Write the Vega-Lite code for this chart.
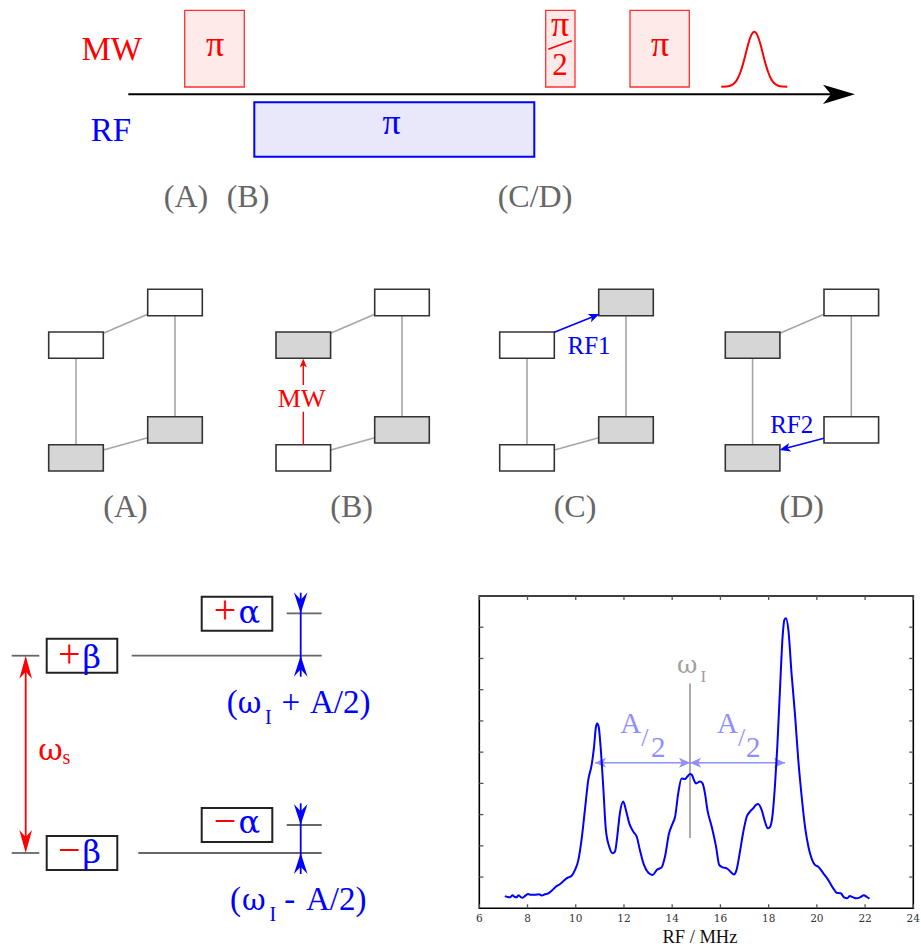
{
"$schema": "https://vega.github.io/schema/vega-lite/v6.json",
"width": 921, "height": 949, "autosize": {"type": "none"}, "padding": 0,
"background": "white",
"config": {"view": {"stroke": null}},
"datasets": {
 "time_axis": [{"x":128.3,"x2":846,"y":94.3,"y2":94.3}],
 "time_tip": [{"x":855,"y":94.3}],
 "mw_pulses": [{"x":184.7,"x2":244.3,"y":10.3,"y2":87},{"x":545.7,"x2":575,"y":10.3,"y2":87},{"x":630,"x2":689.3,"y":10.3,"y2":87}],
 "rf_pulse": [{"x":254.3,"x2":534.3,"y":102.3,"y2":156.7}],
 "readout": [{"x":721.3,"y":86.7},{"x":726.3,"y":86.5},{"x":730.3,"y":85.7},{"x":734.3,"y":83.2},{"x":736.3,"y":80.9},{"x":738.3,"y":77.3},{"x":740.3,"y":72.5},{"x":742.3,"y":66.4},{"x":744.3,"y":59.2},{"x":746.3,"y":51.4},{"x":748.3,"y":43.8},{"x":750.3,"y":37.5},{"x":752.3,"y":33.2},{"x":754.3,"y":31.7},{"x":756.3,"y":33.2},{"x":758.3,"y":37.5},{"x":760.3,"y":43.8},{"x":762.3,"y":51.4},{"x":764.3,"y":59.2},{"x":766.3,"y":66.4},{"x":768.3,"y":72.5},{"x":770.3,"y":77.3},{"x":772.3,"y":80.9},{"x":774.3,"y":83.2},{"x":778.3,"y":85.7},{"x":782.3,"y":86.5},{"x":787.3,"y":86.7}],
 "fraction_bar": [{"x":548.3,"y":49.3,"x2":571.7,"y2":40.7}],
 "txt_mw": [{"x":111.7,"y":60,"label":"MW"}],
 "txt_rf": [{"x":111,"y":140.7,"label":"RF"}],
 "txt_pi_red": [{"x":215,"y":55.5,"label":"π"},{"x":560,"y":35.5,"label":"π"},{"x":660,"y":55.5,"label":"π"}],
 "txt_two_red": [{"x":560,"y":75,"label":"2"}],
 "txt_pi_blue": [{"x":391.7,"y":133.8,"label":"π"}],
 "txt_steps": [{"x":186,"y":207,"label":"(A)"},{"x":248,"y":207,"label":"(B)"},{"x":535,"y":207,"label":"(C/D)"},{"x":125.5,"y":516.7,"label":"(A)"},{"x":351.7,"y":516.7,"label":"(B)"},{"x":575,"y":516.7,"label":"(C)"},{"x":801.7,"y":516.7,"label":"(D)"}],
 "couplings": [
  {"x":103.3,"y":333.3,"x2":147.7,"y2":314.3},{"x":76,"y":358.3,"x2":76,"y2":444.7},{"x":175,"y":315.7,"x2":175,"y2":416.7},{"x":103.3,"y":450,"x2":147.7,"y2":437.7},
  {"x":330.6,"y":333.3,"x2":374.7,"y2":314.3},{"x":402,"y":315.7,"x2":402,"y2":416.7},{"x":330.6,"y":450,"x2":374.7,"y2":437.7},
  {"x":527,"y":358.3,"x2":527,"y2":444.7},{"x":626,"y":315.7,"x2":626,"y2":416.7},{"x":554.3,"y":450,"x2":598.7,"y2":437.7},
  {"x":779.9,"y":333.3,"x2":824,"y2":314.3},{"x":752.6,"y":358.3,"x2":752.6,"y2":444.7},{"x":851.3,"y":315.7,"x2":851.3,"y2":416.7}],
 "levels": [
  {"x":48.7,"x2":103.3,"y":332,"y2":358.3,"pop":"empty"},{"x":147.7,"x2":202.3,"y":289.3,"y2":315.7,"pop":"empty"},{"x":48.7,"x2":103.3,"y":444.7,"y2":471,"pop":"filled"},{"x":147.7,"x2":202.3,"y":416.7,"y2":443,"pop":"filled"},
  {"x":276,"x2":330.6,"y":332,"y2":358.3,"pop":"filled"},{"x":374.7,"x2":429.3,"y":289.3,"y2":315.7,"pop":"empty"},{"x":276,"x2":330.6,"y":444.7,"y2":471,"pop":"empty"},{"x":374.7,"x2":429.3,"y":416.7,"y2":443,"pop":"filled"},
  {"x":499.7,"x2":554.3,"y":332,"y2":358.3,"pop":"empty"},{"x":598.7,"x2":653.3,"y":289.3,"y2":315.7,"pop":"filled"},{"x":499.7,"x2":554.3,"y":444.7,"y2":471,"pop":"empty"},{"x":598.7,"x2":653.3,"y":416.7,"y2":443,"pop":"filled"},
  {"x":725.3,"x2":779.9,"y":332,"y2":358.3,"pop":"filled"},{"x":824,"x2":878.6,"y":289.3,"y2":315.7,"pop":"empty"},{"x":725.3,"x2":779.9,"y":444.7,"y2":471,"pop":"filled"},{"x":824,"x2":878.6,"y":416.7,"y2":443,"pop":"empty"}],
 "mw_arrow": [{"x":303.3,"y":444.7,"x2":303.3,"y2":411.7},{"x":303.3,"y":385,"x2":303.3,"y2":362}],
 "mw_tip": [{"x":303.3,"y":358.5}],
 "txt_mw_small": [{"x":301.7,"y":406.7,"label":"MW"}],
 "rf1_arrow": [{"x":554.3,"y":332.3,"x2":596,"y2":315.4}],
 "rf1_tip": [{"x":599.5,"y":314}],
 "rf2_arrow": [{"x":824,"y":438.3,"x2":783,"y2":449.1}],
 "rf2_tip": [{"x":779.5,"y":450.1}],
 "txt_rf_small": [{"x":589,"y":354,"label":"RF1"},{"x":791.7,"y":433.3,"label":"RF2"}],
 "bl_levels": [{"x":11.7,"x2":39.3,"y":655.7,"y2":655.7},{"x":131.7,"x2":321.7,"y":655.7,"y2":655.7},{"x":286.7,"x2":321.7,"y":613.3,"y2":613.3},{"x":286.7,"x2":321.7,"y":825,"y2":825},{"x":11.7,"x2":39.3,"y":853,"y2":853},{"x":138.3,"x2":321.7,"y":853,"y2":853}],
 "bl_boxes": [{"x":201.7,"x2":272.3,"y":596.7,"y2":630.7},{"x":46.7,"x2":117.3,"y":638.7,"y2":672.7},{"x":201.7,"x2":272.3,"y":808,"y2":842},{"x":46.7,"x2":117.3,"y":836,"y2":870}],
 "hf_rules": [{"x":300.7,"x2":300.7,"y":592.7,"y2":676.7},{"x":300.7,"x2":300.7,"y":803.3,"y2":874}],
 "hf_down": [{"x":300.7,"y":613.3},{"x":300.7,"y":825}],
 "hf_up": [{"x":300.7,"y":655.7},{"x":300.7,"y":853}],
 "ws_rule": [{"x":25.7,"x2":25.7,"y":662,"y2":847}],
 "ws_up": [{"x":25.7,"y":655.7}],
 "ws_down": [{"x":25.7,"y":853}],
 "txt_sign": [{"x":69.3,"y":666.7,"label":"+"},{"x":225,"y":623.3,"label":"+"},{"x":225,"y":834,"label":"−"},{"x":69.3,"y":862.5,"label":"−"}],
 "txt_alpha": [{"x":249.3,"y":622.7,"label":"α"},{"x":249.3,"y":833.3,"label":"α"}],
 "txt_beta": [{"x":91.7,"y":667.5,"label":"β"},{"x":91.7,"y":862.5,"label":"β"}],
 "txt_ws": [{"x":50.5,"y":760,"label":"ω"}],
 "txt_ws_sub": [{"x":66.3,"y":764,"label":"s"}],
 "txt_paren": [{"x":226.7,"y":713.3,"label":"("},{"x":230,"y":910,"label":"("}],
 "txt_omega": [{"x":249.5,"y":713.3,"label":"ω"},{"x":253.8,"y":910,"label":"ω"}],
 "txt_op": [{"x":290.8,"y":713.3,"label":"+"},{"x":289.7,"y":910,"label":"-"}],
 "txt_tail": [{"x":310,"y":713.3,"label":"A/2)"},{"x":306,"y":910,"label":"A/2)"}],
 "txt_formula_sub": [{"x":265,"y":724,"label":"I"},{"x":269.5,"y":920.5,"label":"I"}],
 "spectrum": [{"f":7.06,"v":0.39},{"f":7.17,"v":0.36},{"f":7.27,"v":0.35},{"f":7.38,"v":0.42},{"f":7.47,"v":0.36},{"f":7.55,"v":0.35},{"f":7.62,"v":0.42},{"f":7.72,"v":0.36},{"f":7.8,"v":0.34},{"f":7.9,"v":0.4},{"f":8.03,"v":0.46},{"f":8.12,"v":0.43},{"f":8.24,"v":0.43},{"f":8.38,"v":0.44},{"f":8.48,"v":0.45},{"f":8.59,"v":0.41},{"f":8.72,"v":0.45},{"f":8.86,"v":0.48},{"f":9.0,"v":0.56},{"f":9.14,"v":0.67},{"f":9.35,"v":0.78},{"f":9.5,"v":0.88},{"f":9.62,"v":0.96},{"f":9.83,"v":1.04},{"f":9.97,"v":1.23},{"f":10.11,"v":1.55},{"f":10.24,"v":2.19},{"f":10.38,"v":3.15},{"f":10.52,"v":4.11},{"f":10.66,"v":4.59},{"f":10.76,"v":5.18},{"f":10.84,"v":5.82},{"f":10.89,"v":5.92},{"f":10.95,"v":5.82},{"f":11.03,"v":5.18},{"f":11.14,"v":3.9},{"f":11.25,"v":2.51},{"f":11.39,"v":1.97},{"f":11.53,"v":1.76},{"f":11.63,"v":1.82},{"f":11.72,"v":2.29},{"f":11.83,"v":3.04},{"f":11.97,"v":3.42},{"f":12.08,"v":3.15},{"f":12.22,"v":2.72},{"f":12.39,"v":2.45},{"f":12.53,"v":2.29},{"f":12.66,"v":1.87},{"f":12.83,"v":1.39},{"f":13.01,"v":1.14},{"f":13.19,"v":1.07},{"f":13.36,"v":1.23},{"f":13.56,"v":1.31},{"f":13.7,"v":1.65},{"f":13.87,"v":2.4},{"f":14.02,"v":2.72},{"f":14.12,"v":2.93},{"f":14.25,"v":3.68},{"f":14.39,"v":4.16},{"f":14.53,"v":4.14},{"f":14.63,"v":4.22},{"f":14.74,"v":4.3},{"f":14.82,"v":4.27},{"f":14.9,"v":4.11},{"f":14.99,"v":4.0},{"f":15.15,"v":4.06},{"f":15.26,"v":4.0},{"f":15.36,"v":3.68},{"f":15.46,"v":3.15},{"f":15.64,"v":2.61},{"f":15.82,"v":1.97},{"f":15.95,"v":1.39},{"f":16.09,"v":1.31},{"f":16.26,"v":1.28},{"f":16.42,"v":1.17},{"f":16.56,"v":1.08},{"f":16.67,"v":1.23},{"f":16.81,"v":1.81},{"f":16.95,"v":2.45},{"f":17.09,"v":2.93},{"f":17.22,"v":3.09},{"f":17.36,"v":3.2},{"f":17.47,"v":3.31},{"f":17.57,"v":3.34},{"f":17.71,"v":3.15},{"f":17.85,"v":2.77},{"f":17.96,"v":2.56},{"f":18.06,"v":2.61},{"f":18.17,"v":3.04},{"f":18.26,"v":3.9},{"f":18.36,"v":5.18},{"f":18.47,"v":6.99},{"f":18.58,"v":8.7},{"f":18.65,"v":9.23},{"f":18.72,"v":9.29},{"f":18.82,"v":8.91},{"f":18.95,"v":7.52},{"f":19.09,"v":6.24},{"f":19.23,"v":4.75},{"f":19.37,"v":3.58},{"f":19.51,"v":2.61},{"f":19.65,"v":1.97},{"f":19.78,"v":1.6},{"f":19.92,"v":1.39},{"f":20.06,"v":1.33},{"f":20.27,"v":1.12},{"f":20.47,"v":0.91},{"f":20.68,"v":0.64},{"f":20.82,"v":0.5},{"f":20.99,"v":0.48},{"f":21.13,"v":0.35},{"f":21.26,"v":0.32},{"f":21.37,"v":0.39},{"f":21.51,"v":0.35},{"f":21.65,"v":0.32},{"f":21.79,"v":0.35},{"f":21.95,"v":0.42},{"f":22.06,"v":0.37},{"f":22.18,"v":0.31}],
 "frame": [{"f":6,"f2":24,"v":0,"v2":10}],
 "xticks": [{"f":6},{"f":8},{"f":10},{"f":12},{"f":14},{"f":16},{"f":18},{"f":20},{"f":22},{"f":24}],
 "yticks": [{"v":1},{"v":2},{"v":3},{"v":4},{"v":5},{"v":6},{"v":7},{"v":8},{"v":9}],
 "xtitle": [{"f":15.15,"label":"RF / MHz"}],
 "center_line": [{"f":14.74,"v":2.25,"v2":7.2}],
 "half_lines": [{"f":10.8,"f2":14.74,"v":4.66},{"f":14.74,"f2":18.68,"v":4.66}],
 "half_left_tips": [{"f":10.8,"v":4.66},{"f":14.74,"v":4.66}],
 "half_right_tips": [{"f":14.74,"v":4.66},{"f":18.68,"v":4.66}],
 "txt_wI": [{"f":14.62,"v":7.52,"label":"ω"}],
 "txt_wI_sub": [{"f":15.29,"v":7.26,"label":"I"}],
 "txt_halfA": [{"f":12.28,"v":5.6,"label":"A"},{"f":16.29,"v":5.6,"label":"A"}],
 "txt_halfslash": [{"f":12.87,"v":5.2,"label":"/"},{"f":16.88,"v":5.2,"label":"/"}],
 "txt_half2": [{"f":13.42,"v":4.83,"label":"2"},{"f":17.36,"v":4.83,"label":"2"}]
},
"layer": [
 {"layer": [
  {"data":{"name":"time_axis"},"mark":{"type":"rule","stroke":"#000000","strokeWidth":2},
   "encoding":{"x":{"field":"x","type":"quantitative","scale":{"domain":[0,921],"nice":false,"zero":false},"axis":null},"y":{"field":"y","type":"quantitative","scale":{"domain":[0,949],"nice":false,"zero":false,"reverse":true},"axis":null},"x2":{"field":"x2"},"y2":{"field":"y2"}}},
  {"data":{"name":"time_tip"},"mark":{"type":"point","shape":"M0,0L-2,-0.6L-1.5,0L-2,0.6Z","size":1024,"filled":true,"fill":"#000000","strokeWidth":0,"opacity":1},
   "encoding":{"x":{"field":"x","type":"quantitative","scale":{"domain":[0,921],"nice":false,"zero":false},"axis":null},"y":{"field":"y","type":"quantitative","scale":{"domain":[0,949],"nice":false,"zero":false,"reverse":true},"axis":null}}},
  {"data":{"name":"mw_pulses"},"mark":{"type":"rect","fill":"#ffeaea","stroke":"#ff3030","strokeWidth":1.3},
   "encoding":{"x":{"field":"x","type":"quantitative","scale":{"domain":[0,921],"nice":false,"zero":false},"axis":null},"y":{"field":"y","type":"quantitative","scale":{"domain":[0,949],"nice":false,"zero":false,"reverse":true},"axis":null},"x2":{"field":"x2"},"y2":{"field":"y2"}}},
  {"data":{"name":"rf_pulse"},"mark":{"type":"rect","fill":"#e8e8fa","stroke":"#0000ff","strokeWidth":2},
   "encoding":{"x":{"field":"x","type":"quantitative","scale":{"domain":[0,921],"nice":false,"zero":false},"axis":null},"y":{"field":"y","type":"quantitative","scale":{"domain":[0,949],"nice":false,"zero":false,"reverse":true},"axis":null},"x2":{"field":"x2"},"y2":{"field":"y2"}}},
  {"data":{"name":"readout"},"mark":{"type":"line","stroke":"#ff0000","strokeWidth":2,"interpolate":"monotone"},
   "encoding":{"x":{"field":"x","type":"quantitative","scale":{"domain":[0,921],"nice":false,"zero":false},"axis":null},"y":{"field":"y","type":"quantitative","scale":{"domain":[0,949],"nice":false,"zero":false,"reverse":true},"axis":null}}},
  {"data":{"name":"fraction_bar"},"mark":{"type":"rule","stroke":"#ff0000","strokeWidth":1.6},
   "encoding":{"x":{"field":"x","type":"quantitative","scale":{"domain":[0,921],"nice":false,"zero":false},"axis":null},"y":{"field":"y","type":"quantitative","scale":{"domain":[0,949],"nice":false,"zero":false,"reverse":true},"axis":null},"x2":{"field":"x2"},"y2":{"field":"y2"}}},
  {"data":{"name":"txt_mw"},"mark":{"type":"text","font":"Liberation Serif","fontSize":33,"fill":"#ff0000","align":"center","baseline":"alphabetic"},
   "encoding":{"x":{"field":"x","type":"quantitative","scale":{"domain":[0,921],"nice":false,"zero":false},"axis":null},"y":{"field":"y","type":"quantitative","scale":{"domain":[0,949],"nice":false,"zero":false,"reverse":true},"axis":null},"text":{"field":"label","type":"nominal"}}},
  {"data":{"name":"txt_rf"},"mark":{"type":"text","font":"Liberation Serif","fontSize":33,"fill":"#0000ff","align":"center","baseline":"alphabetic"},
   "encoding":{"x":{"field":"x","type":"quantitative","scale":{"domain":[0,921],"nice":false,"zero":false},"axis":null},"y":{"field":"y","type":"quantitative","scale":{"domain":[0,949],"nice":false,"zero":false,"reverse":true},"axis":null},"text":{"field":"label","type":"nominal"}}},
  {"data":{"name":"txt_pi_red"},"mark":{"type":"text","font":"Liberation Serif","fontSize":36,"fill":"#ff0000","align":"center","baseline":"alphabetic"},
   "encoding":{"x":{"field":"x","type":"quantitative","scale":{"domain":[0,921],"nice":false,"zero":false},"axis":null},"y":{"field":"y","type":"quantitative","scale":{"domain":[0,949],"nice":false,"zero":false,"reverse":true},"axis":null},"text":{"field":"label","type":"nominal"}}},
  {"data":{"name":"txt_two_red"},"mark":{"type":"text","font":"Liberation Serif","fontSize":31,"fill":"#ff0000","align":"center","baseline":"alphabetic"},
   "encoding":{"x":{"field":"x","type":"quantitative","scale":{"domain":[0,921],"nice":false,"zero":false},"axis":null},"y":{"field":"y","type":"quantitative","scale":{"domain":[0,949],"nice":false,"zero":false,"reverse":true},"axis":null},"text":{"field":"label","type":"nominal"}}},
  {"data":{"name":"txt_pi_blue"},"mark":{"type":"text","font":"Liberation Serif","fontSize":36,"fill":"#0000ff","align":"center","baseline":"alphabetic"},
   "encoding":{"x":{"field":"x","type":"quantitative","scale":{"domain":[0,921],"nice":false,"zero":false},"axis":null},"y":{"field":"y","type":"quantitative","scale":{"domain":[0,949],"nice":false,"zero":false,"reverse":true},"axis":null},"text":{"field":"label","type":"nominal"}}},
  {"data":{"name":"txt_steps"},"mark":{"type":"text","font":"Liberation Serif","fontSize":32,"fill":"#666666","align":"center","baseline":"alphabetic"},
   "encoding":{"x":{"field":"x","type":"quantitative","scale":{"domain":[0,921],"nice":false,"zero":false},"axis":null},"y":{"field":"y","type":"quantitative","scale":{"domain":[0,949],"nice":false,"zero":false,"reverse":true},"axis":null},"text":{"field":"label","type":"nominal"}}},
  {"data":{"name":"couplings"},"mark":{"type":"rule","stroke":"#a6a6a6","strokeWidth":1.6},
   "encoding":{"x":{"field":"x","type":"quantitative","scale":{"domain":[0,921],"nice":false,"zero":false},"axis":null},"y":{"field":"y","type":"quantitative","scale":{"domain":[0,949],"nice":false,"zero":false,"reverse":true},"axis":null},"x2":{"field":"x2"},"y2":{"field":"y2"}}},
  {"data":{"name":"levels"},"mark":{"type":"rect","stroke":"#333333","strokeWidth":1.6},
   "encoding":{"x":{"field":"x","type":"quantitative","scale":{"domain":[0,921],"nice":false,"zero":false},"axis":null},"y":{"field":"y","type":"quantitative","scale":{"domain":[0,949],"nice":false,"zero":false,"reverse":true},"axis":null},"x2":{"field":"x2"},"y2":{"field":"y2"},
    "fill":{"field":"pop","type":"nominal","scale":{"domain":["empty","filled"],"range":["#ffffff","#d6d6d6"]},"legend":null}}},
  {"data":{"name":"mw_arrow"},"mark":{"type":"rule","stroke":"#ff0000","strokeWidth":1.4},
   "encoding":{"x":{"field":"x","type":"quantitative","scale":{"domain":[0,921],"nice":false,"zero":false},"axis":null},"y":{"field":"y","type":"quantitative","scale":{"domain":[0,949],"nice":false,"zero":false,"reverse":true},"axis":null},"x2":{"field":"x2"},"y2":{"field":"y2"}}},
  {"data":{"name":"mw_tip"},"mark":{"type":"point","shape":"M0,0L-2,-0.8L-1.5,0L-2,0.8Z","size":81,"angle":270,"filled":true,"fill":"#ff0000","strokeWidth":0,"opacity":1},
   "encoding":{"x":{"field":"x","type":"quantitative","scale":{"domain":[0,921],"nice":false,"zero":false},"axis":null},"y":{"field":"y","type":"quantitative","scale":{"domain":[0,949],"nice":false,"zero":false,"reverse":true},"axis":null}}},
  {"data":{"name":"txt_mw_small"},"mark":{"type":"text","font":"Liberation Serif","fontSize":26,"fill":"#ff0000","align":"center","baseline":"alphabetic"},
   "encoding":{"x":{"field":"x","type":"quantitative","scale":{"domain":[0,921],"nice":false,"zero":false},"axis":null},"y":{"field":"y","type":"quantitative","scale":{"domain":[0,949],"nice":false,"zero":false,"reverse":true},"axis":null},"text":{"field":"label","type":"nominal"}}},
  {"data":{"name":"rf1_arrow"},"mark":{"type":"rule","stroke":"#0000ff","strokeWidth":1.6},
   "encoding":{"x":{"field":"x","type":"quantitative","scale":{"domain":[0,921],"nice":false,"zero":false},"axis":null},"y":{"field":"y","type":"quantitative","scale":{"domain":[0,949],"nice":false,"zero":false,"reverse":true},"axis":null},"x2":{"field":"x2"},"y2":{"field":"y2"}}},
  {"data":{"name":"rf2_arrow"},"mark":{"type":"rule","stroke":"#0000ff","strokeWidth":1.6},
   "encoding":{"x":{"field":"x","type":"quantitative","scale":{"domain":[0,921],"nice":false,"zero":false},"axis":null},"y":{"field":"y","type":"quantitative","scale":{"domain":[0,949],"nice":false,"zero":false,"reverse":true},"axis":null},"x2":{"field":"x2"},"y2":{"field":"y2"}}},
  {"data":{"name":"rf1_tip"},"mark":{"type":"point","shape":"M0,0L-2,-0.8L-1.5,0L-2,0.8Z","size":121,"angle":-22.2,"filled":true,"fill":"#0000ff","strokeWidth":0,"opacity":1},
   "encoding":{"x":{"field":"x","type":"quantitative","scale":{"domain":[0,921],"nice":false,"zero":false},"axis":null},"y":{"field":"y","type":"quantitative","scale":{"domain":[0,949],"nice":false,"zero":false,"reverse":true},"axis":null}}},
  {"data":{"name":"rf2_tip"},"mark":{"type":"point","shape":"M0,0L-2,-0.8L-1.5,0L-2,0.8Z","size":121,"angle":165.3,"filled":true,"fill":"#0000ff","strokeWidth":0,"opacity":1},
   "encoding":{"x":{"field":"x","type":"quantitative","scale":{"domain":[0,921],"nice":false,"zero":false},"axis":null},"y":{"field":"y","type":"quantitative","scale":{"domain":[0,949],"nice":false,"zero":false,"reverse":true},"axis":null}}},
  {"data":{"name":"txt_rf_small"},"mark":{"type":"text","font":"Liberation Serif","fontSize":25,"fill":"#0000ff","align":"center","baseline":"alphabetic"},
   "encoding":{"x":{"field":"x","type":"quantitative","scale":{"domain":[0,921],"nice":false,"zero":false},"axis":null},"y":{"field":"y","type":"quantitative","scale":{"domain":[0,949],"nice":false,"zero":false,"reverse":true},"axis":null},"text":{"field":"label","type":"nominal"}}},
  {"data":{"name":"bl_levels"},"mark":{"type":"rule","stroke":"#666666","strokeWidth":1.8},
   "encoding":{"x":{"field":"x","type":"quantitative","scale":{"domain":[0,921],"nice":false,"zero":false},"axis":null},"y":{"field":"y","type":"quantitative","scale":{"domain":[0,949],"nice":false,"zero":false,"reverse":true},"axis":null},"x2":{"field":"x2"},"y2":{"field":"y2"}}},
  {"data":{"name":"hf_rules"},"mark":{"type":"rule","stroke":"#0000ff","strokeWidth":1.8},
   "encoding":{"x":{"field":"x","type":"quantitative","scale":{"domain":[0,921],"nice":false,"zero":false},"axis":null},"y":{"field":"y","type":"quantitative","scale":{"domain":[0,949],"nice":false,"zero":false,"reverse":true},"axis":null},"x2":{"field":"x2"},"y2":{"field":"y2"}}},
  {"data":{"name":"hf_down"},"mark":{"type":"point","shape":"M0,0L-2,-0.65L-1.3,0L-2,0.65Z","size":441,"angle":90,"filled":true,"fill":"#0000ff","strokeWidth":0,"opacity":1},
   "encoding":{"x":{"field":"x","type":"quantitative","scale":{"domain":[0,921],"nice":false,"zero":false},"axis":null},"y":{"field":"y","type":"quantitative","scale":{"domain":[0,949],"nice":false,"zero":false,"reverse":true},"axis":null}}},
  {"data":{"name":"hf_up"},"mark":{"type":"point","shape":"M0,0L-2,-0.65L-1.3,0L-2,0.65Z","size":441,"angle":270,"filled":true,"fill":"#0000ff","strokeWidth":0,"opacity":1},
   "encoding":{"x":{"field":"x","type":"quantitative","scale":{"domain":[0,921],"nice":false,"zero":false},"axis":null},"y":{"field":"y","type":"quantitative","scale":{"domain":[0,949],"nice":false,"zero":false,"reverse":true},"axis":null}}},
  {"data":{"name":"ws_rule"},"mark":{"type":"rule","stroke":"#ff0000","strokeWidth":1.8},
   "encoding":{"x":{"field":"x","type":"quantitative","scale":{"domain":[0,921],"nice":false,"zero":false},"axis":null},"y":{"field":"y","type":"quantitative","scale":{"domain":[0,949],"nice":false,"zero":false,"reverse":true},"axis":null},"x2":{"field":"x2"},"y2":{"field":"y2"}}},
  {"data":{"name":"ws_up"},"mark":{"type":"point","shape":"M0,0L-2,-0.55L-1.4,0L-2,0.55Z","size":529,"angle":270,"filled":true,"fill":"#ff0000","strokeWidth":0,"opacity":1},
   "encoding":{"x":{"field":"x","type":"quantitative","scale":{"domain":[0,921],"nice":false,"zero":false},"axis":null},"y":{"field":"y","type":"quantitative","scale":{"domain":[0,949],"nice":false,"zero":false,"reverse":true},"axis":null}}},
  {"data":{"name":"ws_down"},"mark":{"type":"point","shape":"M0,0L-2,-0.55L-1.4,0L-2,0.55Z","size":529,"angle":90,"filled":true,"fill":"#ff0000","strokeWidth":0,"opacity":1},
   "encoding":{"x":{"field":"x","type":"quantitative","scale":{"domain":[0,921],"nice":false,"zero":false},"axis":null},"y":{"field":"y","type":"quantitative","scale":{"domain":[0,949],"nice":false,"zero":false,"reverse":true},"axis":null}}},
  {"data":{"name":"bl_boxes"},"mark":{"type":"rect","fill":"#ffffff","stroke":"#222222","strokeWidth":2},
   "encoding":{"x":{"field":"x","type":"quantitative","scale":{"domain":[0,921],"nice":false,"zero":false},"axis":null},"y":{"field":"y","type":"quantitative","scale":{"domain":[0,949],"nice":false,"zero":false,"reverse":true},"axis":null},"x2":{"field":"x2"},"y2":{"field":"y2"}}},
  {"data":{"name":"txt_sign"},"mark":{"type":"text","font":"Liberation Serif","fontSize":40,"fill":"#ff0000","align":"center","baseline":"alphabetic"},
   "encoding":{"x":{"field":"x","type":"quantitative","scale":{"domain":[0,921],"nice":false,"zero":false},"axis":null},"y":{"field":"y","type":"quantitative","scale":{"domain":[0,949],"nice":false,"zero":false,"reverse":true},"axis":null},"text":{"field":"label","type":"nominal"}}},
  {"data":{"name":"txt_alpha"},"mark":{"type":"text","font":"DejaVu Serif","fontSize":32,"fill":"#0000ff","align":"center","baseline":"alphabetic"},
   "encoding":{"x":{"field":"x","type":"quantitative","scale":{"domain":[0,921],"nice":false,"zero":false},"axis":null},"y":{"field":"y","type":"quantitative","scale":{"domain":[0,949],"nice":false,"zero":false,"reverse":true},"axis":null},"text":{"field":"label","type":"nominal"}}},
  {"data":{"name":"txt_beta"},"mark":{"type":"text","font":"DejaVu Serif","fontSize":32,"fill":"#0000ff","align":"center","baseline":"alphabetic"},
   "encoding":{"x":{"field":"x","type":"quantitative","scale":{"domain":[0,921],"nice":false,"zero":false},"axis":null},"y":{"field":"y","type":"quantitative","scale":{"domain":[0,949],"nice":false,"zero":false,"reverse":true},"axis":null},"text":{"field":"label","type":"nominal"}}},
  {"data":{"name":"txt_ws"},"mark":{"type":"text","font":"DejaVu Serif","fontSize":30,"fill":"#ff0000","align":"center","baseline":"alphabetic"},
   "encoding":{"x":{"field":"x","type":"quantitative","scale":{"domain":[0,921],"nice":false,"zero":false},"axis":null},"y":{"field":"y","type":"quantitative","scale":{"domain":[0,949],"nice":false,"zero":false,"reverse":true},"axis":null},"text":{"field":"label","type":"nominal"}}},
  {"data":{"name":"txt_ws_sub"},"mark":{"type":"text","font":"Liberation Serif","fontSize":20,"fill":"#ff0000","align":"center","baseline":"alphabetic"},
   "encoding":{"x":{"field":"x","type":"quantitative","scale":{"domain":[0,921],"nice":false,"zero":false},"axis":null},"y":{"field":"y","type":"quantitative","scale":{"domain":[0,949],"nice":false,"zero":false,"reverse":true},"axis":null},"text":{"field":"label","type":"nominal"}}},
  {"data":{"name":"txt_paren"},"mark":{"type":"text","font":"Liberation Serif","fontSize":33,"fill":"#0000ff","align":"left","baseline":"alphabetic"},
   "encoding":{"x":{"field":"x","type":"quantitative","scale":{"domain":[0,921],"nice":false,"zero":false},"axis":null},"y":{"field":"y","type":"quantitative","scale":{"domain":[0,949],"nice":false,"zero":false,"reverse":true},"axis":null},"text":{"field":"label","type":"nominal"}}},
  {"data":{"name":"txt_omega"},"mark":{"type":"text","font":"DejaVu Serif","fontSize":29,"fill":"#0000ff","align":"center","baseline":"alphabetic"},
   "encoding":{"x":{"field":"x","type":"quantitative","scale":{"domain":[0,921],"nice":false,"zero":false},"axis":null},"y":{"field":"y","type":"quantitative","scale":{"domain":[0,949],"nice":false,"zero":false,"reverse":true},"axis":null},"text":{"field":"label","type":"nominal"}}},
  {"data":{"name":"txt_op"},"mark":{"type":"text","font":"Liberation Serif","fontSize":33,"fill":"#0000ff","align":"center","baseline":"alphabetic"},
   "encoding":{"x":{"field":"x","type":"quantitative","scale":{"domain":[0,921],"nice":false,"zero":false},"axis":null},"y":{"field":"y","type":"quantitative","scale":{"domain":[0,949],"nice":false,"zero":false,"reverse":true},"axis":null},"text":{"field":"label","type":"nominal"}}},
  {"data":{"name":"txt_tail"},"mark":{"type":"text","font":"Liberation Serif","fontSize":33,"fill":"#0000ff","align":"left","baseline":"alphabetic"},
   "encoding":{"x":{"field":"x","type":"quantitative","scale":{"domain":[0,921],"nice":false,"zero":false},"axis":null},"y":{"field":"y","type":"quantitative","scale":{"domain":[0,949],"nice":false,"zero":false,"reverse":true},"axis":null},"text":{"field":"label","type":"nominal"}}},
  {"data":{"name":"txt_formula_sub"},"mark":{"type":"text","font":"Liberation Serif","fontSize":20,"fill":"#0000ff","align":"left","baseline":"alphabetic"},
   "encoding":{"x":{"field":"x","type":"quantitative","scale":{"domain":[0,921],"nice":false,"zero":false},"axis":null},"y":{"field":"y","type":"quantitative","scale":{"domain":[0,949],"nice":false,"zero":false,"reverse":true},"axis":null},"text":{"field":"label","type":"nominal"}}}
 ]},
 {"layer": [
  {"data":{"name":"frame"},"mark":{"type":"rect","fill":"#ffffff","stroke":"#000000","strokeWidth":1.6},
   "encoding":{"x":{"field":"f","type":"quantitative","scale":{"domain":[6,24],"range":[479.3,913.3],"nice":false,"zero":false},"axis":null},"y":{"field":"v","type":"quantitative","scale":{"domain":[0,10],"range":[908.3,596],"nice":false,"zero":false},"axis":null},"x2":{"field":"f2"},"y2":{"field":"v2"}}},
  {"data":{"name":"xticks"},"mark":{"type":"rule","stroke":"#555555","strokeWidth":1.3},
   "encoding":{"x":{"field":"f","type":"quantitative","scale":{"domain":[6,24],"range":[479.3,913.3],"nice":false,"zero":false},"axis":null},"y":{"datum":0,"type":"quantitative","scale":{"domain":[0,10],"range":[908.3,596],"nice":false,"zero":false},"axis":null},"y2":{"datum":0.13}}},
  {"data":{"name":"xticks"},"mark":{"type":"rule","stroke":"#555555","strokeWidth":1.3},
   "encoding":{"x":{"field":"f","type":"quantitative","scale":{"domain":[6,24],"range":[479.3,913.3],"nice":false,"zero":false},"axis":null},"y":{"datum":9.87,"type":"quantitative","scale":{"domain":[0,10],"range":[908.3,596],"nice":false,"zero":false},"axis":null},"y2":{"datum":10}}},
  {"data":{"name":"yticks"},"mark":{"type":"rule","stroke":"#555555","strokeWidth":1.3},
   "encoding":{"x":{"datum":6,"type":"quantitative","scale":{"domain":[6,24],"range":[479.3,913.3],"nice":false,"zero":false},"axis":null},"x2":{"datum":6.17},"y":{"field":"v","type":"quantitative","scale":{"domain":[0,10],"range":[908.3,596],"nice":false,"zero":false},"axis":null}}},
  {"data":{"name":"yticks"},"mark":{"type":"rule","stroke":"#555555","strokeWidth":1.3},
   "encoding":{"x":{"datum":23.83,"type":"quantitative","scale":{"domain":[6,24],"range":[479.3,913.3],"nice":false,"zero":false},"axis":null},"x2":{"datum":24},"y":{"field":"v","type":"quantitative","scale":{"domain":[0,10],"range":[908.3,596],"nice":false,"zero":false},"axis":null}}},
  {"data":{"name":"xticks"},"mark":{"type":"text","font":"DejaVu Serif","fontSize":10.5,"fill":"#333333","align":"center","baseline":"alphabetic","dy":13.5},
   "encoding":{"x":{"field":"f","type":"quantitative","scale":{"domain":[6,24],"range":[479.3,913.3],"nice":false,"zero":false},"axis":null},"y":{"datum":0,"type":"quantitative","scale":{"domain":[0,10],"range":[908.3,596],"nice":false,"zero":false},"axis":null},"text":{"field":"f","type":"quantitative"}}},
  {"data":{"name":"xtitle"},"mark":{"type":"text","font":"Liberation Serif","fontSize":18.5,"fill":"#111111","align":"center","baseline":"alphabetic","dy":35},
   "encoding":{"x":{"field":"f","type":"quantitative","scale":{"domain":[6,24],"range":[479.3,913.3],"nice":false,"zero":false},"axis":null},"y":{"datum":0,"type":"quantitative","scale":{"domain":[0,10],"range":[908.3,596],"nice":false,"zero":false},"axis":null},"text":{"field":"label","type":"nominal"}}},
  {"data":{"name":"center_line"},"mark":{"type":"rule","stroke":"#aaaaaa","strokeWidth":2},
   "encoding":{"x":{"field":"f","type":"quantitative","scale":{"domain":[6,24],"range":[479.3,913.3],"nice":false,"zero":false},"axis":null},"y":{"field":"v","type":"quantitative","scale":{"domain":[0,10],"range":[908.3,596],"nice":false,"zero":false},"axis":null},"y2":{"field":"v2"}}},
  {"data":{"name":"half_lines"},"mark":{"type":"rule","stroke":"#8f8fff","strokeWidth":1.4},
   "encoding":{"x":{"field":"f","type":"quantitative","scale":{"domain":[6,24],"range":[479.3,913.3],"nice":false,"zero":false},"axis":null},"x2":{"field":"f2"},"y":{"field":"v","type":"quantitative","scale":{"domain":[0,10],"range":[908.3,596],"nice":false,"zero":false},"axis":null}}},
  {"data":{"name":"half_left_tips"},"mark":{"type":"point","shape":"M0,0L-2,-0.9L-1.5,0L-2,0.9Z","size":121,"angle":180,"filled":true,"fill":"#8f8fff","strokeWidth":0,"opacity":1},
   "encoding":{"x":{"field":"f","type":"quantitative","scale":{"domain":[6,24],"range":[479.3,913.3],"nice":false,"zero":false},"axis":null},"y":{"field":"v","type":"quantitative","scale":{"domain":[0,10],"range":[908.3,596],"nice":false,"zero":false},"axis":null}}},
  {"data":{"name":"half_right_tips"},"mark":{"type":"point","shape":"M0,0L-2,-0.9L-1.5,0L-2,0.9Z","size":121,"angle":0,"filled":true,"fill":"#8f8fff","strokeWidth":0,"opacity":1},
   "encoding":{"x":{"field":"f","type":"quantitative","scale":{"domain":[6,24],"range":[479.3,913.3],"nice":false,"zero":false},"axis":null},"y":{"field":"v","type":"quantitative","scale":{"domain":[0,10],"range":[908.3,596],"nice":false,"zero":false},"axis":null}}},
  {"data":{"name":"spectrum"},"mark":{"type":"line","stroke":"#0000ff","strokeWidth":2,"interpolate":"monotone"},
   "encoding":{"x":{"field":"f","type":"quantitative","scale":{"domain":[6,24],"range":[479.3,913.3],"nice":false,"zero":false},"axis":null},"y":{"field":"v","type":"quantitative","scale":{"domain":[0,10],"range":[908.3,596],"nice":false,"zero":false},"axis":null}}},
  {"data":{"name":"txt_wI"},"mark":{"type":"text","font":"DejaVu Serif","fontSize":25,"fill":"#a0a0a0","align":"center","baseline":"alphabetic"},
   "encoding":{"x":{"field":"f","type":"quantitative","scale":{"domain":[6,24],"range":[479.3,913.3],"nice":false,"zero":false},"axis":null},"y":{"field":"v","type":"quantitative","scale":{"domain":[0,10],"range":[908.3,596],"nice":false,"zero":false},"axis":null},"text":{"field":"label","type":"nominal"}}},
  {"data":{"name":"txt_wI_sub"},"mark":{"type":"text","font":"Liberation Serif","fontSize":17,"fill":"#a0a0a0","align":"center","baseline":"alphabetic"},
   "encoding":{"x":{"field":"f","type":"quantitative","scale":{"domain":[6,24],"range":[479.3,913.3],"nice":false,"zero":false},"axis":null},"y":{"field":"v","type":"quantitative","scale":{"domain":[0,10],"range":[908.3,596],"nice":false,"zero":false},"axis":null},"text":{"field":"label","type":"nominal"}}},
  {"data":{"name":"txt_halfA"},"mark":{"type":"text","font":"Liberation Serif","fontSize":29,"fill":"#8f8fff","align":"center","baseline":"alphabetic"},
   "encoding":{"x":{"field":"f","type":"quantitative","scale":{"domain":[6,24],"range":[479.3,913.3],"nice":false,"zero":false},"axis":null},"y":{"field":"v","type":"quantitative","scale":{"domain":[0,10],"range":[908.3,596],"nice":false,"zero":false},"axis":null},"text":{"field":"label","type":"nominal"}}},
  {"data":{"name":"txt_halfslash"},"mark":{"type":"text","font":"Liberation Serif","fontSize":26,"fill":"#8f8fff","align":"center","baseline":"alphabetic"},
   "encoding":{"x":{"field":"f","type":"quantitative","scale":{"domain":[6,24],"range":[479.3,913.3],"nice":false,"zero":false},"axis":null},"y":{"field":"v","type":"quantitative","scale":{"domain":[0,10],"range":[908.3,596],"nice":false,"zero":false},"axis":null},"text":{"field":"label","type":"nominal"}}},
  {"data":{"name":"txt_half2"},"mark":{"type":"text","font":"Liberation Serif","fontSize":29,"fill":"#8f8fff","align":"center","baseline":"alphabetic"},
   "encoding":{"x":{"field":"f","type":"quantitative","scale":{"domain":[6,24],"range":[479.3,913.3],"nice":false,"zero":false},"axis":null},"y":{"field":"v","type":"quantitative","scale":{"domain":[0,10],"range":[908.3,596],"nice":false,"zero":false},"axis":null},"text":{"field":"label","type":"nominal"}}}
 ]}
],
"resolve": {"scale": {"x": "independent", "y": "independent"}}
}
